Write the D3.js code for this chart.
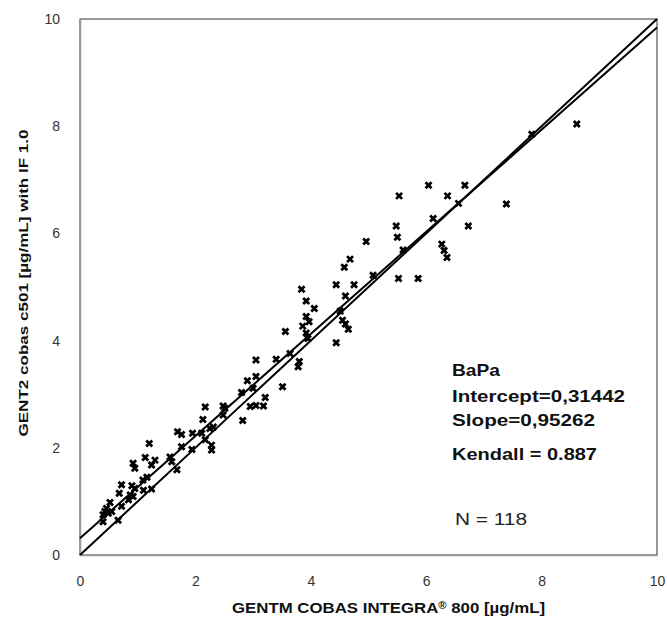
<!DOCTYPE html>
<html>
<head>
<meta charset="utf-8">
<script src="https://cdn.jsdelivr.net/npm/d3@7"></script>
<style>
  html, body { margin: 0; padding: 0; background: #fff; }
  svg { display: block; }
</style>
</head>
<body>
<svg id="chart" width="667" height="623"></svg>
<script>
// ---- data ----
const xValues = [
  2.17, 2.48, 2.13, 2.82, 2.31, 2.25, 1.69, 1.76, 1.95, 2.11,
  1.20, 2.17, 2.28, 2.28, 1.76, 1.94, 1.13, 1.30, 1.24, 0.92,
  0.95, 1.56, 1.59, 1.68, 1.16, 1.09, 0.72, 0.90, 0.95, 0.68,
  0.87, 0.92, 1.10, 1.24, 0.84, 0.72, 0.52, 0.46, 0.43, 0.49,
  0.55, 0.40, 0.40, 0.66,
  2.51, 2.95, 3.05, 3.18, 2.48, 2.90, 3.05, 3.00, 2.80, 3.51,
  3.21, 3.05, 3.40, 3.64, 3.80, 3.78, 3.56, 3.92, 3.95, 3.92,
  3.97, 3.86, 3.92, 4.06, 4.51, 4.55, 4.60, 4.65, 4.44,
  5.48, 5.50, 6.73, 4.96, 5.60, 6.27, 6.31, 6.36, 4.68, 4.58,
  5.08, 5.52, 5.86, 4.44, 4.75, 3.84, 4.60,
  8.61, 7.83, 6.04, 6.67, 5.53, 6.37, 7.39, 6.56, 6.12
];
const yValues = [
  2.76, 2.78, 2.53, 2.51, 2.39, 2.36, 2.30, 2.25, 2.27, 2.27,
  2.08, 2.15, 2.05, 1.96, 2.02, 1.97, 1.82, 1.77, 1.68, 1.71,
  1.62, 1.83, 1.74, 1.59, 1.45, 1.40, 1.31, 1.29, 1.24, 1.15,
  1.12, 1.09, 1.21, 1.23, 1.03, 0.91, 0.98, 0.87, 0.81, 0.78,
  0.81, 0.75, 0.62, 0.65,
  2.74, 2.77, 2.79, 2.78, 2.61, 3.25, 3.33, 3.11, 3.03, 3.14,
  2.94, 3.64, 3.65, 3.76, 3.61, 3.51, 4.17, 4.14, 4.04, 4.45,
  4.35, 4.27, 4.74, 4.60, 4.55, 4.38, 4.31, 4.21, 3.96,
  6.14, 5.93, 6.14, 5.85, 5.69, 5.80, 5.68, 5.55, 5.52, 5.37,
  5.22, 5.16, 5.16, 5.04, 5.04, 4.96, 4.83,
  8.04, 7.85, 6.90, 6.90, 6.70, 6.70, 6.55, 6.56, 6.28
];
const intercept = 0.31442;
const slope = 0.95262;
const lineX = [0, 10];
const xTicks = [0, 2, 4, 6, 8, 10];
const yTicks = [0, 2, 4, 6, 8, 10];
const xTitle = ["GENTM COBAS INTEGRA", "®", " 800 [µg/mL]"];
const yTitle = "GENT2 cobas c501 [µg/mL] with IF 1.0";
const annoLines = ["BaPa", "Intercept=0,31442", "Slope=0,95262", "Kendall = 0.887"];
const nLabel = "N = 118";

// ---- layout ----
const svg = d3.select("#chart");
const L = 80, R = 657, T = 19, B = 555;
const x = d3.scaleLinear().domain([0, 10]).range([L, R]);
const y = d3.scaleLinear().domain([0, 10]).range([B, T]);

// plot border (top/right)
svg.append("rect")
  .attr("x", L).attr("y", T).attr("width", R - L).attr("height", B - T)
  .attr("fill", "none").attr("stroke", "#333").attr("stroke-width", 1);

// axes
const xAxis = svg.append("g").attr("transform", `translate(0,${B})`)
  .call(d3.axisBottom(x).tickValues(xTicks).tickSize(0).tickPadding(21).tickFormat(d3.format("d")));
const yAxis = svg.append("g").attr("transform", `translate(${L},0)`)
  .call(d3.axisLeft(y).tickValues(yTicks).tickSize(0).tickPadding(20).tickFormat(d3.format("d")));
[xAxis, yAxis].forEach(g => {
  g.select(".domain").attr("stroke", "#999").attr("stroke-width", 1.5);
  g.selectAll("text").attr("font-family", "Liberation Sans, Arial, sans-serif")
    .attr("font-size", 14).attr("fill", "#333");
});

// lines
const idLine = d3.line().x(d => x(d)).y(d => y(d));
const regLine = d3.line().x(d => x(d)).y(d => y(intercept + slope * d));
svg.append("path").datum(lineX).attr("d", idLine)
  .attr("fill", "none").attr("stroke", "#000").attr("stroke-width", 2);
svg.append("path").datum(lineX).attr("d", regLine)
  .attr("fill", "none").attr("stroke", "#000").attr("stroke-width", 2);

// points
const pts = xValues.map((v, i) => [v, yValues[i]]);
svg.append("g").selectAll("path").data(pts).enter().append("path")
  .attr("transform", d => `translate(${x(d[0])},${y(d[1])})`)
  .attr("d", "M-3,-3L3,3M-3,3L3,-3")
  .attr("stroke", "#000").attr("stroke-width", 2.8).attr("fill", "none");

// annotation
const anno = [
  { t: annoLines[0], y: 376, w: 48 },
  { t: annoLines[1], y: 402, w: 173 },
  { t: annoLines[2], y: 426, w: 143 },
  { t: annoLines[3], y: 460, w: 145 }
];
svg.append("g").selectAll("text").data(anno).enter().append("text")
  .attr("x", 452).attr("y", d => d.y)
  .attr("textLength", d => d.w).attr("lengthAdjust", "spacingAndGlyphs")
  .attr("font-family", "Liberation Sans, Arial, sans-serif")
  .attr("font-weight", "bold").attr("font-size", 17).attr("fill", "#111")
  .text(d => d.t);

svg.append("text").attr("x", 455).attr("y", 525)
  .attr("textLength", 72).attr("lengthAdjust", "spacingAndGlyphs")
  .attr("font-family", "Liberation Sans, Arial, sans-serif")
  .attr("font-size", 16).attr("fill", "#222").text(nLabel);

// axis titles
const xt = svg.append("text").attr("x", 232).attr("y", 613)
  .attr("textLength", 313).attr("lengthAdjust", "spacingAndGlyphs")
  .attr("font-family", "Liberation Sans, Arial, sans-serif")
  .attr("font-weight", "bold").attr("font-size", 15).attr("fill", "#111");
xt.append("tspan").text(xTitle[0]);
xt.append("tspan").attr("font-size", 10).attr("dy", -4).text(xTitle[1]);
xt.append("tspan").attr("dy", 4).text(xTitle[2]);

svg.append("text")
  .attr("transform", "translate(28,283) rotate(-90)")
  .attr("text-anchor", "middle")
  .attr("textLength", 307).attr("lengthAdjust", "spacingAndGlyphs")
  .attr("font-family", "Liberation Sans, Arial, sans-serif")
  .attr("font-weight", "bold").attr("font-size", 13).attr("fill", "#111")
  .text(yTitle);
</script>
</body>
</html>
